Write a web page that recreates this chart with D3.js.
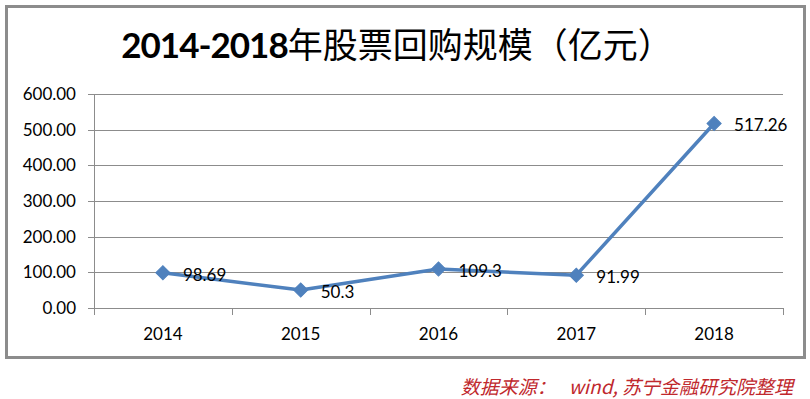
<!DOCTYPE html>
<html>
<head>
<meta charset="utf-8">
<script src="https://cdn.jsdelivr.net/npm/d3@7"></script>
<style>
  body { margin: 0; background: #fff; }
  svg { display: block; }
</style>
</head>
<body>
<div id="chart"></div>
<script>
const years = ["2014", "2015", "2016", "2017", "2018"];
const values = [98.69, 50.3, 109.3, 91.99, 517.26];
const valueLabels = ["98.69", "50.3", "109.3", "91.99", "517.26"];
const yTicks = [0, 100, 200, 300, 400, 500, 600];

const width = 810;
const height = 399;
const margin = {top: 94, right: 27, bottom: 91, left: 94};
const innerW = width - margin.left - margin.right;
const innerH = height - margin.top - margin.bottom;

const svg = d3.select("#chart").append("svg")
    .attr("width", width)
    .attr("height", height);

// outer frame
svg.append("rect")
    .attr("x", 6.5).attr("y", 6.5)
    .attr("width", 798).attr("height", 351)
    .attr("fill", "#fff")
    .attr("stroke", "#8c8c8c")
    .attr("stroke-width", 3);

// title
const title = svg.append("text")
    .attr("x", 397).attr("y", 58)
    .attr("text-anchor", "middle")
    .style("font-size", "35px")
    .style("fill", "#000");
title.append("tspan")
    .style("font-family", "Lato, 'Noto Sans'")
    .style("font-weight", "bold")
    .style("letter-spacing", "-1px")
    .text("2014-2018");
title.append("tspan")
    .style("font-family", "'Noto Sans CJK SC'")
    .style("font-weight", "normal")
    .text("年股票回购规模（亿元）");

const g = svg.append("g")
    .attr("transform", `translate(${margin.left},${margin.top})`);

const x = d3.scaleBand()
    .domain(years)
    .range([0, innerW]);

const y = d3.scaleLinear()
    .domain([0, 600])
    .range([innerH, 0]);

// gridlines
g.append("g")
    .selectAll("line")
    .data(yTicks)
    .join("line")
    .attr("x1", -6).attr("x2", innerW)
    .attr("y1", d => Math.round(y(d)) + 0.5)
    .attr("y2", d => Math.round(y(d)) + 0.5)
    .attr("stroke", "#8c8c8c")
    .attr("stroke-width", 1);

// y axis line
g.append("line")
    .attr("x1", 0.5).attr("x2", 0.5)
    .attr("y1", 0).attr("y2", innerH + 7)
    .attr("stroke", "#8c8c8c");

// y tick labels
g.append("g")
    .selectAll("text")
    .data(yTicks)
    .join("text")
    .attr("x", -18)
    .attr("y", d => y(d))
    .attr("dy", "0.35em")
    .attr("text-anchor", "end")
    .style("font-family", "Lato, 'Noto Sans'")
    .style("font-size", "17px")
    .style("fill", "#000")
    .text(d => d3.format(".2f")(d));

// category ticks
const boundaries = years.map((d, i) => x(d) + x.bandwidth()).concat([0]);
g.append("g")
    .selectAll("line")
    .data(boundaries)
    .join("line")
    .attr("x1", d => Math.round(d) + 0.5)
    .attr("x2", d => Math.round(d) + 0.5)
    .attr("y1", innerH).attr("y2", innerH + 7)
    .attr("stroke", "#8c8c8c");

// category labels
g.append("g")
    .selectAll("text")
    .data(years)
    .join("text")
    .attr("x", d => x(d) + x.bandwidth() / 2)
    .attr("y", innerH + 26)
    .attr("dy", "0.35em")
    .attr("text-anchor", "middle")
    .style("font-family", "Lato, 'Noto Sans'")
    .style("font-size", "17px")
    .style("fill", "#000")
    .text(d => d);

const pts = years.map((d, i) => [x(d) + x.bandwidth() / 2, y(values[i])]);

// line
g.append("path")
    .datum(pts)
    .attr("d", d3.line())
    .attr("fill", "none")
    .attr("stroke", "#4f81bd")
    .attr("stroke-width", 3.5)
    .attr("stroke-linejoin", "round");

// diamond markers
g.append("g")
    .selectAll("path")
    .data(pts)
    .join("path")
    .attr("transform", d => `translate(${d[0]},${d[1]}) rotate(45)`)
    .attr("d", "M-5,-5H5V5H-5Z")
    .attr("fill", "#4f81bd")
    .attr("stroke", "#4f81bd")
    .attr("stroke-width", 1);

// value labels
g.append("g")
    .selectAll("text")
    .data(pts)
    .join("text")
    .attr("x", d => d[0] + 20)
    .attr("y", d => d[1] + 2)
    .attr("dy", "0.35em")
    .style("font-family", "Lato, 'Noto Sans'")
    .style("font-size", "17px")
    .style("fill", "#000")
    .text((d, i) => valueLabels[i]);

// source note
svg.append("text")
    .attr("x", 793).attr("y", 394)
    .attr("text-anchor", "end")
    .style("font-family", "'Noto Sans CJK SC'")
    .style("font-style", "italic")
    .style("font-size", "19px")
    .style("fill", "#c0282d")
    .attr("xml:space", "preserve")
    .text("数据来源：   wind, 苏宁金融研究院整理");
</script>
</body>
</html>
